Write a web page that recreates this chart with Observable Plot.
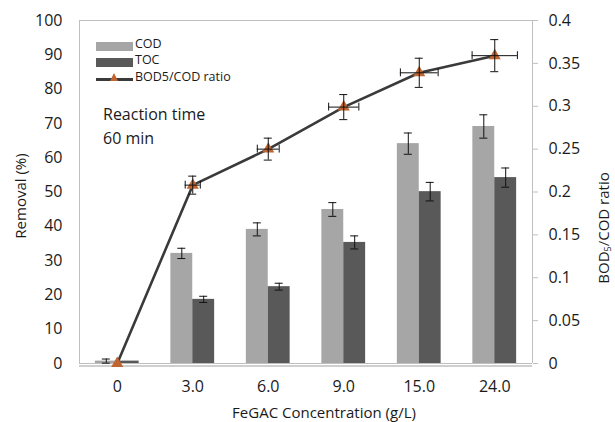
<!DOCTYPE html>
<html><head><meta charset="utf-8">
<script src="https://cdn.jsdelivr.net/npm/d3@7"></script>
<script src="https://cdn.jsdelivr.net/npm/@observablehq/plot@0.6"></script>
<style>
body{margin:0;background:#fff;}
#wrap{position:relative;width:615px;height:422px;font-family:"Open Sans",sans-serif;color:#1a1a1a}
.abs{position:absolute;white-space:nowrap;line-height:1}
</style></head><body><div id="wrap"></div>
<script>
const categories = ["0","3.0","6.0","9.0","15.0","24.0"];
const cod      = [0.7, 32.1, 39.1, 44.9, 64.1, 69.1];
const codErr   = [0.6, 1.5, 1.9, 2.0, 3.1, 3.4];
const toc      = [0.7, 18.7, 22.4, 35.3, 50.1, 54.2];
const tocErr   = [0.0, 0.9, 1.0, 1.9, 2.7, 2.8];
const ratio    = [0, 0.208, 0.250, 0.299, 0.339, 0.359];
const ratioErr = [0, 0.0105, 0.0128, 0.0146, 0.017, 0.0187];
const ratioXErr= [0, 0.10, 0.145, 0.20, 0.25, 0.30]; // in category-spacing units
const leftTicks = [0,10,20,30,40,50,60,70,80,90,100];
const rightTicks = [0,0.05,0.1,0.15,0.2,0.25,0.3,0.35,0.4];

const K = 100/0.4;       // ratio -> left-axis units
const BW = 0.29;         // bar width (category units)
const CAP = 0.053;       // half cap width
const CAPY = 1.15;       // half cap height (y units)

const rows = categories.map((c,i)=>({i, c, cod:cod[i], codErr:codErr[i], toc:toc[i], tocErr:tocErr[i],
  ratio:ratio[i], re:ratioErr[i], xe:ratioXErr[i]}));
const errRows = rows.filter(d=>d.i>0);
const codE = rows.filter(d=>d.codErr>0);
const tocE = rows.filter(d=>d.tocErr>0);

const chart = Plot.plot({
  width:615, height:422,
  marginLeft:79, marginRight:83, marginTop:20, marginBottom:59,
  style:{fontFamily:'"Open Sans", sans-serif', fontSize:"16px", color:"#1a1a1a", background:"#fff"},
  x:{type:"linear", domain:[-0.5,5.5]},
  y:{domain:[0,100]},
  marks:[
    Plot.ruleX([-0.5],{stroke:"#bfbfbf"}),
    Plot.ruleY([100],{stroke:"#bfbfbf"}),
    Plot.ruleX([5.5],{stroke:"#bfbfbf"}),
    Plot.rect(rows,{x1:d=>d.i-BW, x2:d=>d.i, y1:0, y2:"cod", fill:"#a6a6a6"}),
    Plot.rect(rows,{x1:d=>d.i, x2:d=>d.i+BW, y1:0, y2:"toc", fill:"#595959"}),
    Plot.ruleY([0],{stroke:"#bfbfbf", strokeWidth:1}),
    Plot.ruleY([0],{stroke:"#bfbfbf", strokeWidth:1.5, dy:2.5}),
    // bar error bars
    Plot.ruleX(codE,{x:d=>d.i-BW/2, y1:d=>d.cod-d.codErr, y2:d=>d.cod+d.codErr, stroke:"#111", strokeWidth:1}),
    Plot.ruleY(codE,{y:d=>d.cod-d.codErr, x1:d=>d.i-BW/2-CAP, x2:d=>d.i-BW/2+CAP, stroke:"#111"}),
    Plot.ruleY(codE,{y:d=>d.cod+d.codErr, x1:d=>d.i-BW/2-CAP, x2:d=>d.i-BW/2+CAP, stroke:"#111"}),
    Plot.ruleX(tocE,{x:d=>d.i+BW/2, y1:d=>d.toc-d.tocErr, y2:d=>d.toc+d.tocErr, stroke:"#111", strokeWidth:1}),
    Plot.ruleY(tocE,{y:d=>d.toc-d.tocErr, x1:d=>d.i+BW/2-CAP, x2:d=>d.i+BW/2+CAP, stroke:"#111"}),
    Plot.ruleY(tocE,{y:d=>d.toc+d.tocErr, x1:d=>d.i+BW/2-CAP, x2:d=>d.i+BW/2+CAP, stroke:"#111"}),
    // ratio line
    Plot.line(rows,{x:"i", y:d=>d.ratio*K, stroke:"#3a3a3a", strokeWidth:2.6}),
    Plot.dot(rows,{x:"i", y:d=>d.ratio*K, symbol:"triangle", fill:"#c0652f", stroke:"none", r:4.5}),
    // ratio vertical error bars
    Plot.ruleX(errRows,{x:"i", y1:d=>(d.ratio-d.re)*K, y2:d=>(d.ratio+d.re)*K, stroke:"#111"}),
    Plot.ruleY(errRows,{y:d=>(d.ratio-d.re)*K, x1:d=>d.i-CAP, x2:d=>d.i+CAP, stroke:"#111"}),
    Plot.ruleY(errRows,{y:d=>(d.ratio+d.re)*K, x1:d=>d.i-CAP, x2:d=>d.i+CAP, stroke:"#111"}),
    // ratio horizontal error bars
    Plot.ruleY(errRows,{y:d=>d.ratio*K, x1:d=>d.i-d.xe, x2:d=>d.i+d.xe, stroke:"#111"}),
    Plot.ruleX(errRows,{x:d=>d.i-d.xe, y1:d=>d.ratio*K-CAPY, y2:d=>d.ratio*K+CAPY, stroke:"#111"}),
    Plot.ruleX(errRows,{x:d=>d.i+d.xe, y1:d=>d.ratio*K-CAPY, y2:d=>d.ratio*K+CAPY, stroke:"#111"}),
    // axes
    Plot.axisX({ticks:d3.range(categories.length), tickFormat:i=>categories[i], tickSize:0, tickPadding:17, label:null}),
    Plot.axisY({anchor:"left", ticks:leftTicks, tickSize:0, tickPadding:17, label:null}),
    Plot.axisY({anchor:"right", ticks:rightTicks.map(v=>v*K), tickFormat:v=>String(+(v/K).toFixed(2)), tickSize:5, tickPadding:11, stroke:"#bfbfbf", label:null})
  ]
});
const wrap = document.getElementById("wrap");
wrap.appendChild(chart);

function addText(html, css){
  const d=document.createElement("div"); d.className="abs"; d.innerHTML=html; Object.assign(d.style, css); wrap.appendChild(d); return d;
}
// axis titles
addText("Removal (%)",{left:"20px", top:"196px", fontSize:"15px", transform:"translate(-50%,-50%) rotate(-90deg)"});
addText("BOD<sub style='font-size:9px;vertical-align:-2px'>5</sub>/COD ratio",{left:"604px", top:"228px", fontSize:"15px", transform:"translate(-50%,-50%) rotate(-90deg)"});
addText("FeGAC Concentration (g/L)",{left:"324px", top:"412px", fontSize:"15px", transform:"translate(-50%,-50%)"});
// annotation
addText("Reaction time",{left:"103px", top:"106px", fontSize:"16px"});
addText("60 min",{left:"103px", top:"130px", fontSize:"16px"});
// legend
const lg = [
  {label:"COD", kind:"bar", color:"#a6a6a6", y:46},
  {label:"TOC", kind:"bar", color:"#595959", y:62},
  {label:"BOD5/COD ratio", kind:"line", color:"#3a3a3a", y:79}
];
lg.forEach(e=>{
  if(e.kind==="bar"){
    const s=document.createElement("div"); s.className="abs";
    Object.assign(s.style,{left:"96px",top:(e.y-4.5)+"px",width:"37px",height:"9px",background:e.color}); wrap.appendChild(s);
  } else {
    const s=document.createElement("div"); s.className="abs";
    Object.assign(s.style,{left:"96px",top:(e.y-1)+"px",width:"37px",height:"2.5px",background:e.color}); wrap.appendChild(s);
    const t=document.createElement("div"); t.className="abs";
    Object.assign(t.style,{left:"110px",top:(e.y-6)+"px",width:"0",height:"0",borderLeft:"4.5px solid transparent",borderRight:"4.5px solid transparent",borderBottom:"8px solid #c0652f"}); wrap.appendChild(t);
  }
  addText(e.label,{left:"135px", top:(e.y-8)+"px", fontSize:"12.5px"});
});
</script></body></html>
